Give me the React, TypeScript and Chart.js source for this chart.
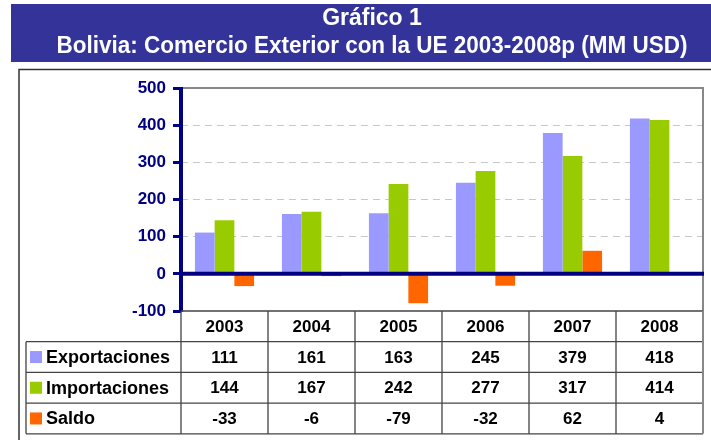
import React, { useEffect, useRef } from "react";
import { Chart, registerables } from "chart.js";
Chart.register(...registerables);

const years = ["2003", "2004", "2005", "2006", "2007", "2008"];
const exportaciones = [111, 161, 163, 245, 379, 418];
const importaciones = [144, 167, 242, 277, 317, 414];
const saldo = [-33, -6, -79, -32, 62, 4];
const seriesNames = ["Exportaciones", "Importaciones", "Saldo"];
const seriesColors = ["#9999FF", "#99CC00", "#FF6600"];
const titleLines = ["Gráfico 1", "Bolivia: Comercio Exterior con la UE 2003-2008p (MM USD)"];
const yMin = -100;
const yMax = 500;
const yStep = 100;

const FONT = '"Liberation Sans", Arial, sans-serif';
const NAVY = "#000080";

const decorPlugin = {
  id: "decor",
  beforeDraw(chart: any) {
    const ctx = chart.ctx;
    ctx.save();
    ctx.fillStyle = "#ffffff";
    ctx.fillRect(0, 0, chart.width, chart.height);
    // title band
    ctx.fillStyle = "#333399";
    ctx.fillRect(11, 4, chart.width - 11, 58);
    ctx.fillStyle = "#ffffff";
    ctx.font = `bold 23px ${FONT}`;
    ctx.textAlign = "center";
    ctx.textBaseline = "middle";
    const cx = 372;
    ctx.fillText(titleLines[0], cx, 19, 120);
    ctx.fillText(titleLines[1], cx, 47, 631);
    // frame
    ctx.strokeStyle = "#333333";
    ctx.lineWidth = 1.5;
    ctx.beginPath();
    ctx.moveTo(19, chart.height);
    ctx.lineTo(19, 69.5);
    ctx.lineTo(chart.width, 69.5);
    ctx.stroke();
    ctx.restore();
  },
  afterDatasetsDraw(chart: any) {
    const ctx = chart.ctx;
    const ca = chart.chartArea;
    const y = chart.scales.y;
    ctx.save();
    // plot border top/right
    ctx.strokeStyle = "#888888";
    ctx.lineWidth = 2;
    ctx.beginPath();
    ctx.moveTo(ca.left, ca.top);
    ctx.lineTo(ca.right, ca.top);
    ctx.lineTo(ca.right, ca.bottom);
    ctx.stroke();
    // zero line
    const y0 = y.getPixelForValue(0);
    ctx.strokeStyle = NAVY;
    ctx.lineWidth = 4;
    ctx.beginPath();
    ctx.moveTo(ca.left, y0);
    ctx.lineTo(ca.right + 1, y0);
    ctx.stroke();
    // y axis line
    ctx.beginPath();
    ctx.moveTo(ca.left, ca.top - 1);
    ctx.lineTo(ca.left, ca.bottom + 1);
    ctx.stroke();
    ctx.restore();
  },
  afterDraw(chart: any) {
    const ctx = chart.ctx;
    const ca = chart.chartArea;
    const xs = chart.scales.x;
    const n = years.length;
    const colW = (ca.right - ca.left) / n;
    const top = ca.bottom;
    const rh = 30.7;
    const tableLeft = 26;
    const rows = [exportaciones, importaciones, saldo];
    ctx.save();
    ctx.strokeStyle = "#444444";
    ctx.lineWidth = 1.3;
    ctx.beginPath();
    ctx.moveTo(ca.left, top);
    ctx.lineTo(ca.right, top);
    for (let r = 1; r <= 4; r++) {
      ctx.moveTo(tableLeft, top + r * rh);
      ctx.lineTo(ca.right, top + r * rh);
    }
    ctx.moveTo(tableLeft, top + rh);
    ctx.lineTo(tableLeft, top + 4 * rh);
    for (let i = 0; i < n; i++) {
      const xl = ca.left + i * colW;
      ctx.moveTo(xl, top);
      ctx.lineTo(xl, top + 4 * rh);
    }
    ctx.stroke();
    ctx.strokeStyle = "#888888";
    ctx.lineWidth = 2;
    ctx.beginPath();
    ctx.moveTo(ca.right, top);
    ctx.lineTo(ca.right, top + 4 * rh);
    ctx.stroke();

    ctx.fillStyle = "#000000";
    ctx.font = `bold 17px ${FONT}`;
    ctx.textAlign = "center";
    ctx.textBaseline = "middle";
    for (let i = 0; i < n; i++) {
      const cx = xs.getPixelForValue(i);
      ctx.fillText(years[i], cx, top + rh / 2 + 1);
      for (let r = 0; r < rows.length; r++) {
        ctx.fillText(String(rows[r][i]), cx, top + (r + 1) * rh + rh / 2 + 1);
      }
    }
    ctx.textAlign = "left";
    for (let r = 0; r < rows.length; r++) {
      const cy = top + (r + 1) * rh + rh / 2;
      ctx.fillStyle = seriesColors[r];
      ctx.fillRect(30, cy - 6, 12, 12);
      ctx.fillStyle = "#000000";
      ctx.font = `bold 18px ${FONT}`;
      ctx.fillText(seriesNames[r], 46, cy + 1);
    }
    ctx.restore();
  },
};

export default function App() {
  const ref = useRef<HTMLCanvasElement>(null);
  useEffect(() => {
    if (!ref.current) return;
    const chart = new Chart(ref.current, {
      type: "bar",
      data: {
        labels: years,
        datasets: [exportaciones, importaciones, saldo].map((d, i) => ({
          label: seriesNames[i],
          data: d,
          backgroundColor: seriesColors[i],
          borderWidth: 0,
          barPercentage: 1,
          categoryPercentage: 0.68,
        })),
      },
      options: {
        responsive: false,
        animation: false,
        layout: { padding: { left: 0, top: 88, right: 8, bottom: 129 } },
        plugins: { legend: { display: false }, tooltip: { enabled: false }, title: { display: false } },
        scales: {
          x: { display: false },
          y: {
            min: yMin,
            max: yMax,
            afterFit: (s: any) => {
              s.width = 181;
            },
            ticks: {
              stepSize: yStep,
              color: NAVY,
              font: { family: FONT, size: 17, weight: "bold" },
              padding: 7,
            },
            border: { display: false, dash: [7, 5] },
            grid: {
              drawTicks: true,
              tickLength: 8,
              tickColor: NAVY,
              tickWidth: 3,
              tickBorderDash: [],
              lineWidth: 1,
              color: (c: any) => {
                const v = c.tick ? c.tick.value : null;
                if (v === 0 || v === yMin || v === yMax) return "rgba(0,0,0,0)";
                return "#C8C8C8";
              },
            },
          },
        },
      },
      plugins: [decorPlugin],
    });
    return () => chart.destroy();
  }, []);
  return (
    <div style={{ position: "absolute", left: 0, top: 0, width: 711, height: 440 }}>
      <canvas ref={ref} width={711} height={440} style={{ display: "block" }} />
    </div>
  );
}
